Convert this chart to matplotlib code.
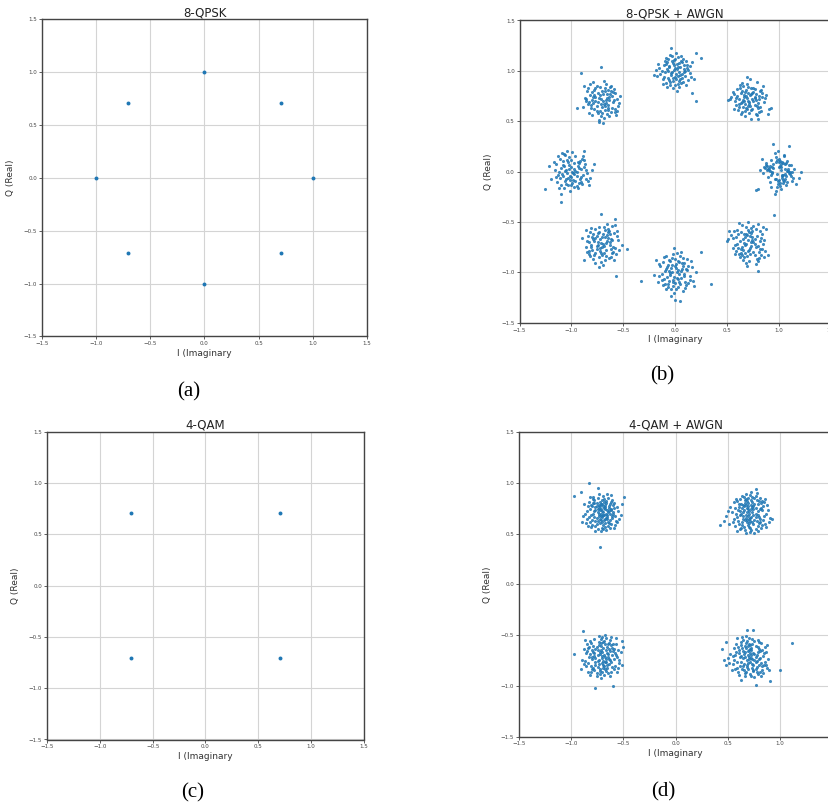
import matplotlib
matplotlib.use("Agg")
import matplotlib.pyplot as plt

# ideal constellation points (I, Q)
qpsk8_i = [1.0, 0.707, 0.0, -0.707, -1.0, -0.707, 0.0, 0.707]
qpsk8_q = [0.0, 0.707, 1.0, 0.707, 0.0, -0.707, -1.0, -0.707]
qam4_i = [-0.707, 0.707, -0.707, 0.707]
qam4_q = [0.707, 0.707, -0.707, -0.707]

# received points around each symbol, offsets in hundredths
b0 = [(3,-6),(-5,4),(8,1),(-12,9),(1,-11),(6,3),(-2,-2),(10,7),(-7,12),(4,-8),(0,5),(-15,-1),(12,-4),(-3,10),(7,-13),(-9,2),(2,8),(14,-6),(-6,0),(5,15),(-1,-9),(9,3),(-11,6),(3,-3),(-4,18),(17,-12),(-8,1),(6,-7),(1,11),(-13,4),(11,-2),(-2,-15),(4,9),(-6,5),(8,-10),(0,13),(-10,-5),(13,0),(-5,8),(2,-17),(-18,2),(7,-4),(-3,14),(10,-1),(-8,6),(5,-9),(-1,20),(15,3),(-4,-7),(3,10),(-7,-3),(9,1),(1,-14),(-12,7),(6,-2),(-2,12),(20,-6),(-9,4),(4,-11),(-5,27),(11,0),(0,-8),(-14,5),(7,9),(-3,-19),(2,2),(-20,-17),(8,11),(-6,-1),(12,7),(-1,-12),(5,16),(-10,3),(3,-4),(22,0),(-4,-22),(6,8),(-8,-10),(1,6),(9,1),(-3,-7),(-16,13),(4,-3),(10,25),(-7,-15),(2,5),(-11,2),(13,-9),(0,10),(-22,-18)]
b1 = [(2,5),(-7,-3),(10,1),(-1,-9),(5,12),(-11,4),(8,-6),(-3,8),(0,-1),(13,3),(-6,-12),(4,7),(-9,1),(7,-14),(-2,10),(1,-4),(-14,6),(11,9),(-5,-7),(6,2),(-8,15),(3,-10),(15,-2),(-4,3),(9,-8),(-12,-5),(0,13),(5,-1),(-7,7),(12,-11),(-1,2),(8,18),(-10,-10),(3,6),(-5,0),(17,5),(-3,-16),(6,11),(-13,-1),(2,-6),(10,4),(-6,9),(1,-13),(-17,3),(7,0),(-2,-8),(14,14),(-9,-4),(4,1),(-1,16),(20,-9),(-4,5),(9,-3),(-8,12),(3,-18),(-15,8),(6,-5),(0,7),(11,-7),(-6,-2),(2,21),(-11,11),(16,2),(-3,-11),(5,8),(-18,1),(8,-15),(-2,4),(12,10),(-7,-14),(1,-2),(22,-8),(-5,14),(4,-9),(-12,2),(10,-12),(-1,23),(7,6),(-9,-7),(19,-14),(-4,-1),(3,12),(-14,-9),(6,3),(0,-6),(-20,0),(13,7),(-6,17),(9,-18),(-3,-4)]
b2 = [(1,-3),(-6,5),(9,2),(-2,-10),(4,8),(-10,-1),(7,-7),(0,12),(-4,-4),(12,6),(-8,9),(3,-13),(-1,1),(14,-2),(-12,-8),(5,4),(-3,15),(8,-11),(-7,0),(2,7),(-15,3),(10,-5),(-5,-14),(6,10),(0,-6),(-9,13),(13,1),(-2,-17),(4,-1),(-11,6),(16,9),(-6,-9),(1,18),(7,-3),(-14,-3),(3,4),(-4,23),(11,-14),(-8,2),(5,-8),(-1,11),(20,18),(-17,-5),(9,6),(-3,-1),(2,-20),(-10,10),(6,-12),(0,3),(-7,-7),(15,-6),(-5,16),(12,3),(-13,0),(4,-16),(-2,8),(8,12),(-9,-12),(1,-8),(25,13),(-6,4),(3,14),(-12,-13),(10,0),(-4,-2),(16,-22),(-1,6),(7,9),(-16,7),(5,-4),(-8,-16),(13,-9),(2,2),(-20,-4),(20,-30),(-3,10),(9,-1),(-11,-6),(6,15),(-5,-11),(0,-14),(14,5),(-7,12),(3,-5),(-18,1),(11,10),(-2,-7),(18,-8),(-9,7),(4,-10)]
b3 = [(-3,2),(6,-5),(-9,8),(1,-1),(10,4),(-5,-11),(3,12),(-12,-2),(7,0),(0,-7),(-7,10),(13,-9),(-2,5),(5,-14),(-15,1),(9,9),(-1,-4),(4,16),(-10,-8),(11,-2),(-6,3),(2,-17),(-13,12),(8,6),(-4,-13),(15,1),(-8,-3),(0,9),(6,-10),(-11,5),(3,-6),(-18,-7),(12,11),(-1,-16),(7,3),(-5,14),(16,-6),(-9,0),(2,19),(-3,-21),(9,-12),(-14,9),(5,2),(-7,-9),(1,6),(13,7),(-12,-13),(4,-3),(-2,13),(10,-8),(-6,-1),(18,4),(-16,2),(3,-10),(-8,18),(7,-16),(-4,7),(0,-13),(14,-15),(-10,-5),(6,10),(-1,1),(-24,-8),(15,-11),(-3,-19),(8,13),(-11,16),(2,-4),(-5,-6),(11,8),(-17,14),(4,0),(-7,5),(17,-3),(-2,-11),(-1,33),(6,-8),(-13,-4),(9,14),(-20,27),(1,-22),(-6,12),(12,0),(-9,-15),(5,6),(-15,-1),(3,9),(-4,-2),(13,-12),(-8,3)]
b4 = [(-2,3),(5,-4),(-8,7),(1,0),(9,-10),(-4,12),(3,-2),(-11,-6),(7,9),(0,-13),(-6,1),(12,5),(-1,-8),(4,15),(-13,-3),(8,-7),(-3,10),(2,-1),(-9,18),(14,2),(-5,-12),(6,6),(-15,8),(0,-5),(10,13),(-7,-16),(3,3),(-12,0),(16,-9),(-2,14),(5,-14),(-10,4),(11,-3),(-4,-1),(1,19),(-17,10),(7,-11),(-8,-4),(13,8),(-1,-19),(4,1),(-14,-10),(9,3),(-6,16),(2,-8),(18,-6),(-11,13),(0,5),(-5,-7),(8,11),(-3,-13),(15,-1),(-9,-2),(3,9),(-20,-7),(6,-16),(-7,6),(12,12),(-1,-4),(-25,-17),(10,-12),(-4,20),(5,0),(-13,15),(1,-11),(22,8),(-10,-13),(-10,-30),(7,4),(-2,7),(-16,2),(-10,-22),(14,-7),(-8,11),(3,-15),(-22,6),(9,-5),(-5,2),(11,15),(-12,-16),(0,12),(17,-13),(-6,-9),(12,20),(-3,-6),(6,10),(-15,-5),(4,-9),(-7,17),(20,2)]
b5 = [(2,-3),(-6,5),(8,1),(-1,-10),(5,8),(-10,-2),(4,-7),(-3,11),(10,3),(-7,-12),(0,6),(13,-5),(-4,1),(6,14),(-12,-8),(1,-1),(-8,9),(9,-14),(-2,4),(15,7),(-14,2),(3,-17),(-5,-6),(7,12),(0,-4),(-10,15),(11,-9),(-1,-19),(5,2),(-15,-4),(12,10),(-6,-10),(2,16),(-9,6),(8,-2),(-3,-14),(14,-11),(-11,11),(4,0),(-17,-17),(1,9),(-5,-3),(10,17),(-8,-16),(6,5),(-2,-8),(17,-7),(-13,7),(3,13),(-6,-20),(9,4),(-1,0),(-12,-11),(13,18),(-4,10),(-1,29),(7,-15),(-15,13),(2,-10),(-7,2),(16,3),(-3,-24),(11,-4),(-9,-7),(5,19),(14,-33),(-19,5),(0,-12),(8,9),(-4,-2),(12,-17),(-11,-13),(24,-6),(3,6),(-6,14),(10,-10),(-2,-5),(20,-2),(-14,-9),(6,11),(-8,4),(1,-22),(15,12),(-5,7),(9,-6),(-12,1),(13,24),(4,-13),(-3,16),(-10,-4)]
b6 = [(1,4),(-5,-3),(8,6),(-2,-8),(4,10),(-10,1),(6,-6),(0,13),(-7,-12),(12,2),(-3,7),(3,-15),(-13,-2),(9,9),(-1,-5),(5,16),(-8,5),(14,-4),(-4,-17),(2,0),(-15,8),(10,-10),(-6,12),(7,3),(0,-11),(-11,-7),(15,11),(-2,18),(4,-2),(-9,3),(11,-13),(-5,-1),(1,8),(-16,-10),(8,-19),(-3,14),(13,6),(-7,-15),(3,-7),(-12,10),(6,1),(-1,-21),(17,-9),(-4,4),(2,19),(-20,-3),(9,-4),(-6,-9),(12,13),(0,-27),(-9,16),(5,-12),(-14,6),(20,0),(-2,-14),(7,9),(-10,-12),(3,2),(-33,-9),(35,-12),(-1,24),(25,20),(10,-16),(-5,11),(5,-28),(-8,-5),(14,-8),(-3,0),(1,-17),(-12,-13),(16,5),(-7,7),(4,-10),(-18,12),(11,3),(-4,-23),(8,14),(-15,-4),(2,-6),(18,-14),(-6,1),(9,-2),(-11,15),(0,6),(13,-11),(-2,-10),(6,20),(-9,-17),(3,11),(-13,-8)]
b7 = [(-2,-1),(4,6),(-7,-6),(1,11),(9,-3),(-5,4),(6,-12),(-10,9),(3,1),(0,-8),(12,5),(-4,-14),(7,14),(-13,-2),(2,-5),(-1,8),(10,-9),(-8,2),(5,17),(-3,-10),(14,-1),(-11,13),(0,3),(8,-16),(-6,-4),(3,10),(-15,5),(11,-6),(-2,16),(6,-1),(-9,-11),(13,9),(-4,0),(1,-18),(16,-8),(-7,11),(4,3),(-12,-8),(9,19),(-1,-13),(7,-4),(-14,12),(2,7),(-5,-17),(11,2),(-3,6),(17,14),(-10,-5),(5,-9),(0,21),(-8,-14),(12,-12),(-20,4),(3,-3),(-6,18),(8,7),(-2,-20),(15,3),(-11,-1),(4,12),(-17,8),(10,-15),(-4,9),(1,-7),(-21,2),(14,16),(-7,-10),(6,4),(-1,-23),(9,-18),(-13,-11),(25,28),(-19,12),(3,15),(-5,-7),(11,12),(-9,20),(7,-21),(-3,-2),(15,-14),(0,13),(-12,6),(19,-12),(9,-28),(-6,-12),(5,1),(-15,-5),(13,-6),(-2,9),(2,-11)]

d0 = [(1,-2),(-4,3),(6,0),(-2,-6),(3,5),(-7,1),(5,-4),(0,8),(-3,-1),(9,2),(-6,-8),(2,4),(-1,-3),(8,-7),(-9,6),(4,9),(-5,-5),(0,1),(11,-1),(-2,10),(3,-10),(-10,-2),(7,6),(-4,0),(1,-12),(-8,9),(12,4),(-1,-7),(5,2),(-12,-4),(2,13),(6,-9),(-6,5),(0,-4),(9,10),(-3,7),(-11,-9),(4,-1),(-7,12),(10,-5),(-1,3),(3,-14),(-14,1),(7,1),(-5,-11),(1,6),(13,-3),(-8,-1),(2,-7),(-4,14),(8,8),(-10,7),(0,-15),(5,-2),(-2,2),(15,5),(-6,-13),(4,11),(-13,6),(9,-11),(-3,-3),(1,16),(-9,-7),(11,0),(-1,8),(6,-13),(-16,-1),(3,3),(-5,9),(14,-8),(0,-9),(-7,-4),(10,12),(-12,10),(2,-2),(-4,-16),(7,4),(-2,-10),(16,1),(-8,15),(5,-6),(-15,-10),(1,0),(8,-15),(-6,2),(12,9),(-10,-14),(3,7),(-3,18),(17,-6),(-1,-18),(-12,29),(-2,-34),(21,15),(-20,20),(-27,16),(4,-5),(-7,9),(9,3),(-11,3),(0,12),(6,14),(-18,-3),(13,-12),(-4,-8),(2,10),(-9,-12),(18,-2),(-5,6),(7,-10),(-14,-6),(1,-16),(11,7),(-3,4),(15,-9),(-8,13),(4,-17),(-17,8),(10,-3),(-1,-1),(-6,-18),(19,8),(3,-6),(-11,15),(5,18),(-13,-13),(8,-1),(-19,-9),(12,-15),(-2,6),(-4,24),(9,17)]
d1 = [(-1,3),(4,-2),(-6,0),(2,7),(-3,-5),(8,1),(-5,6),(1,-8),(6,4),(-9,-2),(3,10),(0,-1),(-2,4),(10,-6),(-7,-9),(5,8),(-1,-12),(12,2),(-10,5),(2,-4),(7,12),(-4,-7),(0,1),(-13,-1),(9,-10),(-3,13),(4,3),(-8,8),(14,-3),(1,-15),(-6,-3),(11,9),(-2,-9),(6,-1),(-12,11),(3,0),(-5,15),(8,-13),(-1,6),(-15,-6),(13,6),(0,-6),(5,14),(-9,1),(2,-17),(-4,9),(16,-1),(-7,-12),(10,3),(-3,-2),(1,17),(-11,-8),(7,-8),(-2,11),(4,-11),(-14,4),(12,11),(-6,7),(0,-14),(9,-4),(-8,-15),(3,5),(-17,0),(6,16),(-1,-3),(15,-11),(-5,2),(2,12),(-10,-11),(11,-15),(-4,-17),(8,8),(-13,13),(5,-7),(-2,0),(17,7),(-7,4),(1,-19),(-16,-9),(10,14),(-3,18),(6,-16),(-11,2),(3,-9),(13,-7),(-19,-11),(-24,-8),(-28,-12),(-22,-3),(20,-5),(22,-6),(6,23),(2,20),(-9,-16),(14,10),(-6,-6),(4,6),(-1,14),(-12,-4),(8,-2),(-3,7),(18,2),(-15,10),(0,-10),(7,19),(-8,-1),(12,-12),(-5,-14),(3,15),(-18,5),(9,11),(-2,-7),(16,-14),(-10,8),(5,-20),(-14,-13),(11,4),(-4,12),(1,-5),(19,-9),(-7,16),(6,-4),(-12,-18),(15,13),(-1,9),(-20,1),(8,-18),(-3,-20),(10,-9),(2,3),(-9,13)]
d2 = [(2,1),(-3,-4),(5,3),(-1,6),(4,-6),(-7,0),(0,-2),(8,5),(-5,9),(1,-9),(-9,-3),(6,-1),(-2,4),(10,8),(-4,-11),(3,12),(-11,2),(7,-8),(0,0),(-6,7),(12,-3),(-2,-13),(4,6),(-13,-7),(9,11),(-8,4),(1,-5),(-3,14),(14,1),(-10,-10),(5,-12),(-1,10),(-15,3),(8,-4),(2,15),(-6,-6),(11,5),(-4,1),(0,-16),(13,-10),(-12,9),(6,2),(-7,-14),(3,-1),(-1,17),(16,6),(-9,-1),(4,-15),(-14,12),(9,-6),(-3,-8),(1,8),(-16,-5),(7,13),(-5,-17),(12,-13),(-2,2),(-11,15),(5,9),(15,-1),(-8,-12),(0,19),(10,-11),(-4,6),(2,-19),(-17,7),(8,16),(-6,-2),(17,-7),(-10,13),(3,-6),(-1,-22),(-18,25),(-6,-32),(11,-30),(-27,2),(20,9),(19,15),(14,18),(-13,-16),(6,12),(-3,11),(9,-16),(-9,6),(1,-12),(13,3),(-15,-10),(4,18),(-5,-20),(7,-3),(-12,-1),(11,12),(-2,-15),(16,-12),(-7,17),(0,4),(18,4),(-11,-19),(5,-9),(-19,-4),(3,21),(-8,10),(12,7),(-4,-5),(8,-20),(-14,5),(2,-10),(-1,13),(15,-16),(-16,16),(6,-17),(10,1),(-20,-13),(-3,20),(4,-3),(-6,-9),(14,12),(-10,-16),(1,14),(17,-4),(-13,8),(7,7),(-2,-18),(19,-9),(-7,3),(3,-13),(-17,-8),(9,19),(0,-7),(-9,-13)]
d3 = [(-1,1),(3,-3),(-4,4),(1,-6),(5,2),(-6,-2),(2,6),(0,-1),(7,-5),(-3,8),(-8,0),(4,-9),(1,3),(-2,-4),(9,7),(-5,-8),(6,-1),(-1,10),(-10,3),(3,-12),(8,4),(-4,-1),(0,12),(11,-7),(-7,8),(2,-2),(-12,-6),(6,10),(-2,-11),(13,0),(-6,5),(4,-14),(1,7),(-9,-10),(10,-2),(-3,13),(-14,1),(7,-11),(-1,-7),(5,15),(-11,9),(14,-9),(0,-3),(-5,-14),(8,9),(-15,-4),(3,17),(12,-14),(-8,-6),(2,1),(-4,-17),(16,4),(-13,12),(6,-6),(-2,15),(10,-16),(-7,-13),(1,-18),(15,9),(-10,6),(4,3),(-16,-8),(9,-9),(-3,-16),(18,-3),(-6,16),(2,-20),(11,13),(-12,-12),(5,-4),(-1,5),(13,-17),(-8,11),(7,1),(-18,2),(0,18),(41,13),(29,-14),(6,-29),(20,-25),(-8,-24),(-2,26),(4,26),(-24,-4),(-26,7),(-22,-9),(-22,14),(17,-12),(-4,10),(9,14),(-9,-1),(3,-8),(-14,-13),(12,6),(-5,2),(8,-18),(-11,-16),(1,11),(15,-6),(-7,19),(4,-15),(-19,-7),(10,5),(-2,-9),(17,11),(-15,8),(6,-13),(-3,20),(12,-10),(-10,-19),(2,8),(19,-14),(-6,-10),(8,16),(-13,4),(5,-21),(-17,-14),(14,3),(-1,-13),(11,-20),(-8,14),(3,12),(-20,-2),(7,-16),(-4,-20),(16,-9),(0,6),(-12,18),(9,-3),(-16,0)]

qpsk8_noise = [b0, b1, b2, b3, b4, b5, b6, b7]
qam4_noise = [d0, d1, d2, d3]

ticks = [-1.5, -1.0, -0.5, 0.0, 0.5, 1.0, 1.5]
blue = "#1f77b4"

W, H = 829, 805
fig = plt.figure(figsize=(W / 100, H / 100), dpi=100)


def make_ax(left, top, right, bottom, title):
    ax = fig.add_axes([left / W, 1 - bottom / H, (right - left) / W, (bottom - top) / H])
    ax.set_xlim(-1.5, 1.5)
    ax.set_ylim(-1.5, 1.5)
    ax.set_xticks(ticks)
    ax.set_yticks(ticks)
    ax.grid(True, color="#d4d4d4", linewidth=0.8)
    ax.set_axisbelow(True)
    ax.tick_params(labelsize=4, length=2, width=0.6, pad=1.5, colors="#444444")
    for s in ax.spines.values():
        s.set_color("#444444")
        s.set_linewidth(1.0)
    ax.set_title(title, fontsize=8.5, pad=2, color="#222222")
    ax.set_xlabel("I (Imaginary", fontsize=6.5, labelpad=2, color="#333333")
    ax.set_ylabel("Q (Real)", fontsize=6.5, labelpad=6, color="#333333")
    return ax


def scatter_noisy(ax, ci, cq, clusters):
    for x0, y0, pts in zip(ci, cq, clusters):
        xs = [x0 + p[0] / 100 for p in pts]
        ys = [y0 + p[1] / 100 for p in pts]
        ax.scatter(xs, ys, s=5, color=blue, alpha=0.85, linewidths=0)


ax_a = make_ax(42, 19.5, 367, 336.5, "8-QPSK")
ax_a.scatter(qpsk8_i, qpsk8_q, s=8, color=blue, linewidths=0)

ax_b = make_ax(519.5, 20.5, 830.5, 322.7, "8-QPSK + AWGN")
scatter_noisy(ax_b, qpsk8_i, qpsk8_q, qpsk8_noise)

ax_c = make_ax(47, 432, 364, 739.5, "4-QAM")
ax_c.scatter(qam4_i, qam4_q, s=8, color=blue, linewidths=0)

ax_d = make_ax(519, 432, 832, 736.5, "4-QAM + AWGN")
scatter_noisy(ax_d, qam4_i, qam4_q, qam4_noise)

for label, x, y in [("(a)", 189, 392), ("(b)", 662, 376), ("(c)", 193, 793), ("(d)", 663, 792)]:
    fig.text(x / W, 1 - y / H, label, ha="center", va="center",
             fontsize=15, family="Liberation Serif")

fig.savefig("out.png", dpi=100)
